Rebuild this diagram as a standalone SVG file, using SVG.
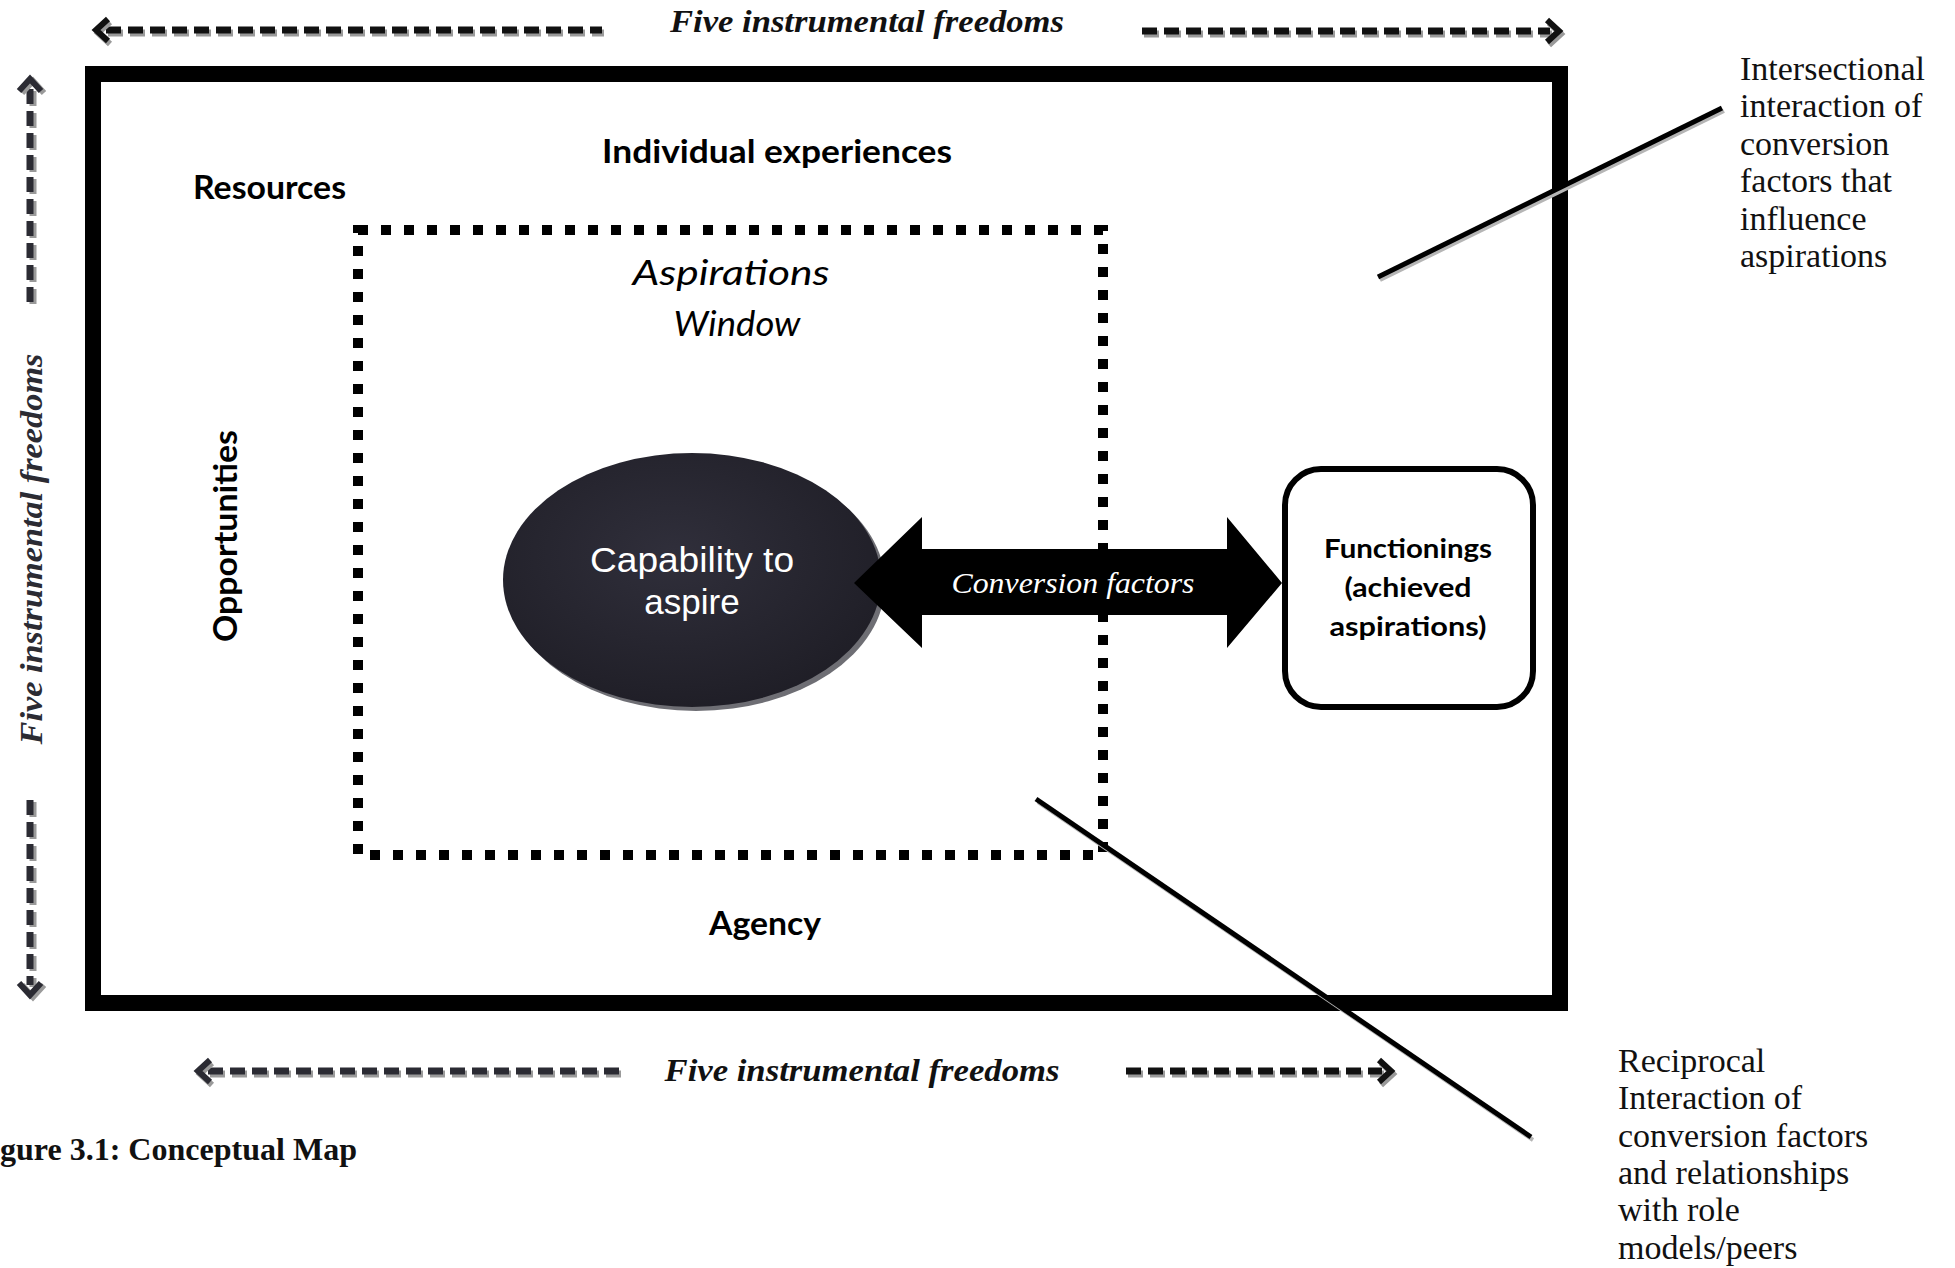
<svg xmlns="http://www.w3.org/2000/svg" width="1955" height="1268" viewBox="0 0 1955 1268">
<style>
.bold-sans{font-family:Lato,"Open Sans","Liberation Sans",sans-serif;font-weight:700;fill:#000}
.ital-sans{font-family:Lato,"Open Sans","Liberation Sans",sans-serif;font-style:italic;fill:#000}
.serif{font-family:"Liberation Serif","Times New Roman",serif;fill:#111}
.freedom{font-family:"Liberation Serif","Times New Roman",serif;font-style:italic;font-weight:700;fill:#111}
.dash{fill:none;stroke:#111;stroke-width:7;stroke-dasharray:15 7}
.dash-sh{fill:none;stroke:#9a9a9a;stroke-width:7;stroke-dasharray:15 7}
.head{fill:none;stroke:#111;stroke-width:6;stroke-linejoin:miter;stroke-linecap:butt}
.head-sh{fill:none;stroke:#9a9a9a;stroke-width:6;stroke-linejoin:miter}
.lead{stroke:#000;stroke-width:5;stroke-linecap:butt}
.lead-sh{stroke:#b5b5b5;stroke-width:4}
</style>
<defs>
<radialGradient id="eg" cx="0.45" cy="0.4" r="0.7">
<stop offset="0" stop-color="#302f3b"/>
<stop offset="1" stop-color="#1d1c24"/>
</radialGradient>
</defs>
<rect x="0" y="0" width="1955" height="1268" fill="#fff"/>

<g id="outer-frame">
<rect x="93" y="74" width="1467" height="929" fill="none" stroke="#000" stroke-width="16"/>
</g>

<g id="aspirations-window">
<path d="M358 230 H1103 V855 H358 Z" fill="none" stroke="#000" stroke-width="10" stroke-dasharray="10 13"/>
<text class="ital-sans" x="731" y="285" font-size="35" text-anchor="middle" textLength="197" lengthAdjust="spacingAndGlyphs">Aspirations</text>
<text class="ital-sans" x="737" y="336" font-size="35" text-anchor="middle" textLength="127" lengthAdjust="spacingAndGlyphs">Window</text>
</g>

<g id="label-individual-experiences">
<text class="bold-sans" x="777" y="163" font-size="32" text-anchor="middle" textLength="350" lengthAdjust="spacingAndGlyphs">Individual experiences</text>
</g>
<g id="label-resources">
<text class="bold-sans" x="193" y="199" font-size="32" textLength="153" lengthAdjust="spacingAndGlyphs">Resources</text>
</g>
<g id="label-opportunities">
<text class="bold-sans" transform="translate(237,536) rotate(-90)" x="0" y="0" font-size="32" text-anchor="middle" textLength="212" lengthAdjust="spacingAndGlyphs">Opportunities</text>
</g>
<g id="label-agency">
<text class="bold-sans" x="765" y="935" font-size="32" text-anchor="middle" textLength="112" lengthAdjust="spacingAndGlyphs">Agency</text>
</g>

<g id="capability-to-aspire">
<ellipse cx="696" cy="584" rx="189" ry="127" fill="#6e6e74"/>
<ellipse cx="692" cy="580" rx="189" ry="127" fill="url(#eg)"/>
<text x="692" y="572" font-family="'Liberation Sans',Arial,sans-serif" font-size="35" fill="#fff" text-anchor="middle" textLength="204" lengthAdjust="spacingAndGlyphs">Capability to</text>
<text x="692" y="614" font-family="'Liberation Sans',Arial,sans-serif" font-size="35" fill="#fff" text-anchor="middle">aspire</text>
</g>

<g id="functionings">
<rect x="1285" y="469" width="248" height="238" rx="36" ry="36" fill="#fff" stroke="#000" stroke-width="6"/>
<text class="bold-sans" x="1408" y="558" font-size="26" text-anchor="middle" textLength="168" lengthAdjust="spacingAndGlyphs">Functionings</text>
<text class="bold-sans" x="1408" y="597" font-size="26" text-anchor="middle" textLength="127" lengthAdjust="spacingAndGlyphs">(achieved</text>
<text class="bold-sans" x="1408" y="636" font-size="26" text-anchor="middle" textLength="157" lengthAdjust="spacingAndGlyphs">aspirations)</text>
</g>

<g id="connectors">
<!-- conversion factors double arrow -->
<polygon points="854,583 922,517 922,549 1227,549 1227,517 1282,583 1227,648 1227,615 922,615 922,648" fill="#000"/>
<text class="serif" x="1073" y="593" font-size="29" font-style="italic" style="fill:#fff" text-anchor="middle" textLength="243" lengthAdjust="spacingAndGlyphs">Conversion factors</text>

<!-- top freedoms arrows -->
<line class="dash-sh" x1="108" y1="33" x2="604" y2="33"/>
<line class="dash" x1="106" y1="30" x2="602" y2="30"/>
<polyline class="head-sh" points="110,22 98,33 110,44"/>
<polyline class="head" points="108,19 96,30 108,41"/>
<line class="dash-sh" x1="1144" y1="34" x2="1552" y2="34"/>
<line class="dash" x1="1142" y1="31" x2="1550" y2="31"/>
<polyline class="head-sh" points="1549,23 1561,34 1549,45"/>
<polyline class="head" points="1547,20 1559,31 1547,42"/>

<!-- bottom freedoms arrows -->
<line class="dash-sh" x1="210" y1="1074" x2="624" y2="1074"/>
<line class="dash" x1="208" y1="1071" x2="622" y2="1071" style="stroke:#2b2b33"/>
<polyline class="head-sh" points="212,1063 200,1074 212,1085"/>
<polyline class="head" points="210,1060 198,1071 210,1082" style="stroke:#2b2b33"/>
<line class="dash-sh" x1="1128" y1="1074" x2="1384" y2="1074"/>
<line class="dash" x1="1126" y1="1071" x2="1382" y2="1071"/>
<polyline class="head-sh" points="1381,1063 1393,1074 1381,1085"/>
<polyline class="head" points="1379,1060 1391,1071 1379,1082"/>

<!-- left vertical freedoms arrows -->
<line class="dash-sh" x1="33" y1="91" x2="33" y2="307"/>
<line class="dash" x1="30" y1="89" x2="30" y2="305" style="stroke:#2b2b33"/>
<polyline class="head-sh" points="22,93 33,81 44,93"/>
<polyline class="head" points="19,91 30,79 41,91" style="stroke:#2b2b33"/>
<line class="dash-sh" x1="33" y1="802" x2="33" y2="987"/>
<line class="dash" x1="30" y1="800" x2="30" y2="985" style="stroke:#2b2b33"/>
<polyline class="head-sh" points="22,985 33,997 44,985"/>
<polyline class="head" points="19,983 30,995 41,983" style="stroke:#2b2b33"/>

<!-- leader lines -->
<line class="lead-sh" x1="1380" y1="280" x2="1724" y2="111"/>
<line class="lead" x1="1378" y1="277" x2="1722" y2="108"/>
<line class="lead-sh" x1="1038" y1="802" x2="1533" y2="1140"/>
<line class="lead" x1="1036" y1="799" x2="1531" y2="1137"/>
</g>

<g id="freedoms-labels">
<text class="freedom" x="867" y="32" font-size="31" text-anchor="middle" textLength="394" lengthAdjust="spacingAndGlyphs">Five instrumental freedoms</text>
<text class="freedom" x="862" y="1081" font-size="31" text-anchor="middle" textLength="395" lengthAdjust="spacingAndGlyphs">Five instrumental freedoms</text>
<text class="freedom" transform="translate(42,549) rotate(-90)" x="0" y="0" font-size="31" font-weight="400" style="fill:#2b2b33" text-anchor="middle" textLength="391" lengthAdjust="spacingAndGlyphs">Five instrumental freedoms</text>
</g>

<g id="note-intersectional">
<text class="serif" font-size="34">
<tspan x="1740" y="80">Intersectional</tspan>
<tspan x="1740" y="117">interaction of</tspan>
<tspan x="1740" y="155">conversion</tspan>
<tspan x="1740" y="192">factors that</tspan>
<tspan x="1740" y="230">influence</tspan>
<tspan x="1740" y="267">aspirations</tspan>
</text>
</g>

<g id="note-reciprocal">
<text class="serif" font-size="34">
<tspan x="1618" y="1072">Reciprocal</tspan>
<tspan x="1618" y="1109">Interaction of</tspan>
<tspan x="1618" y="1147">conversion factors</tspan>
<tspan x="1618" y="1184">and relationships</tspan>
<tspan x="1618" y="1221">with role</tspan>
<tspan x="1618" y="1259">models/peers</tspan>
</text>
</g>

<g id="caption">
<text class="serif" x="0" y="1160" font-size="31" font-weight="700" textLength="357" lengthAdjust="spacingAndGlyphs">gure 3.1: Conceptual Map</text>
</g>
</svg>
